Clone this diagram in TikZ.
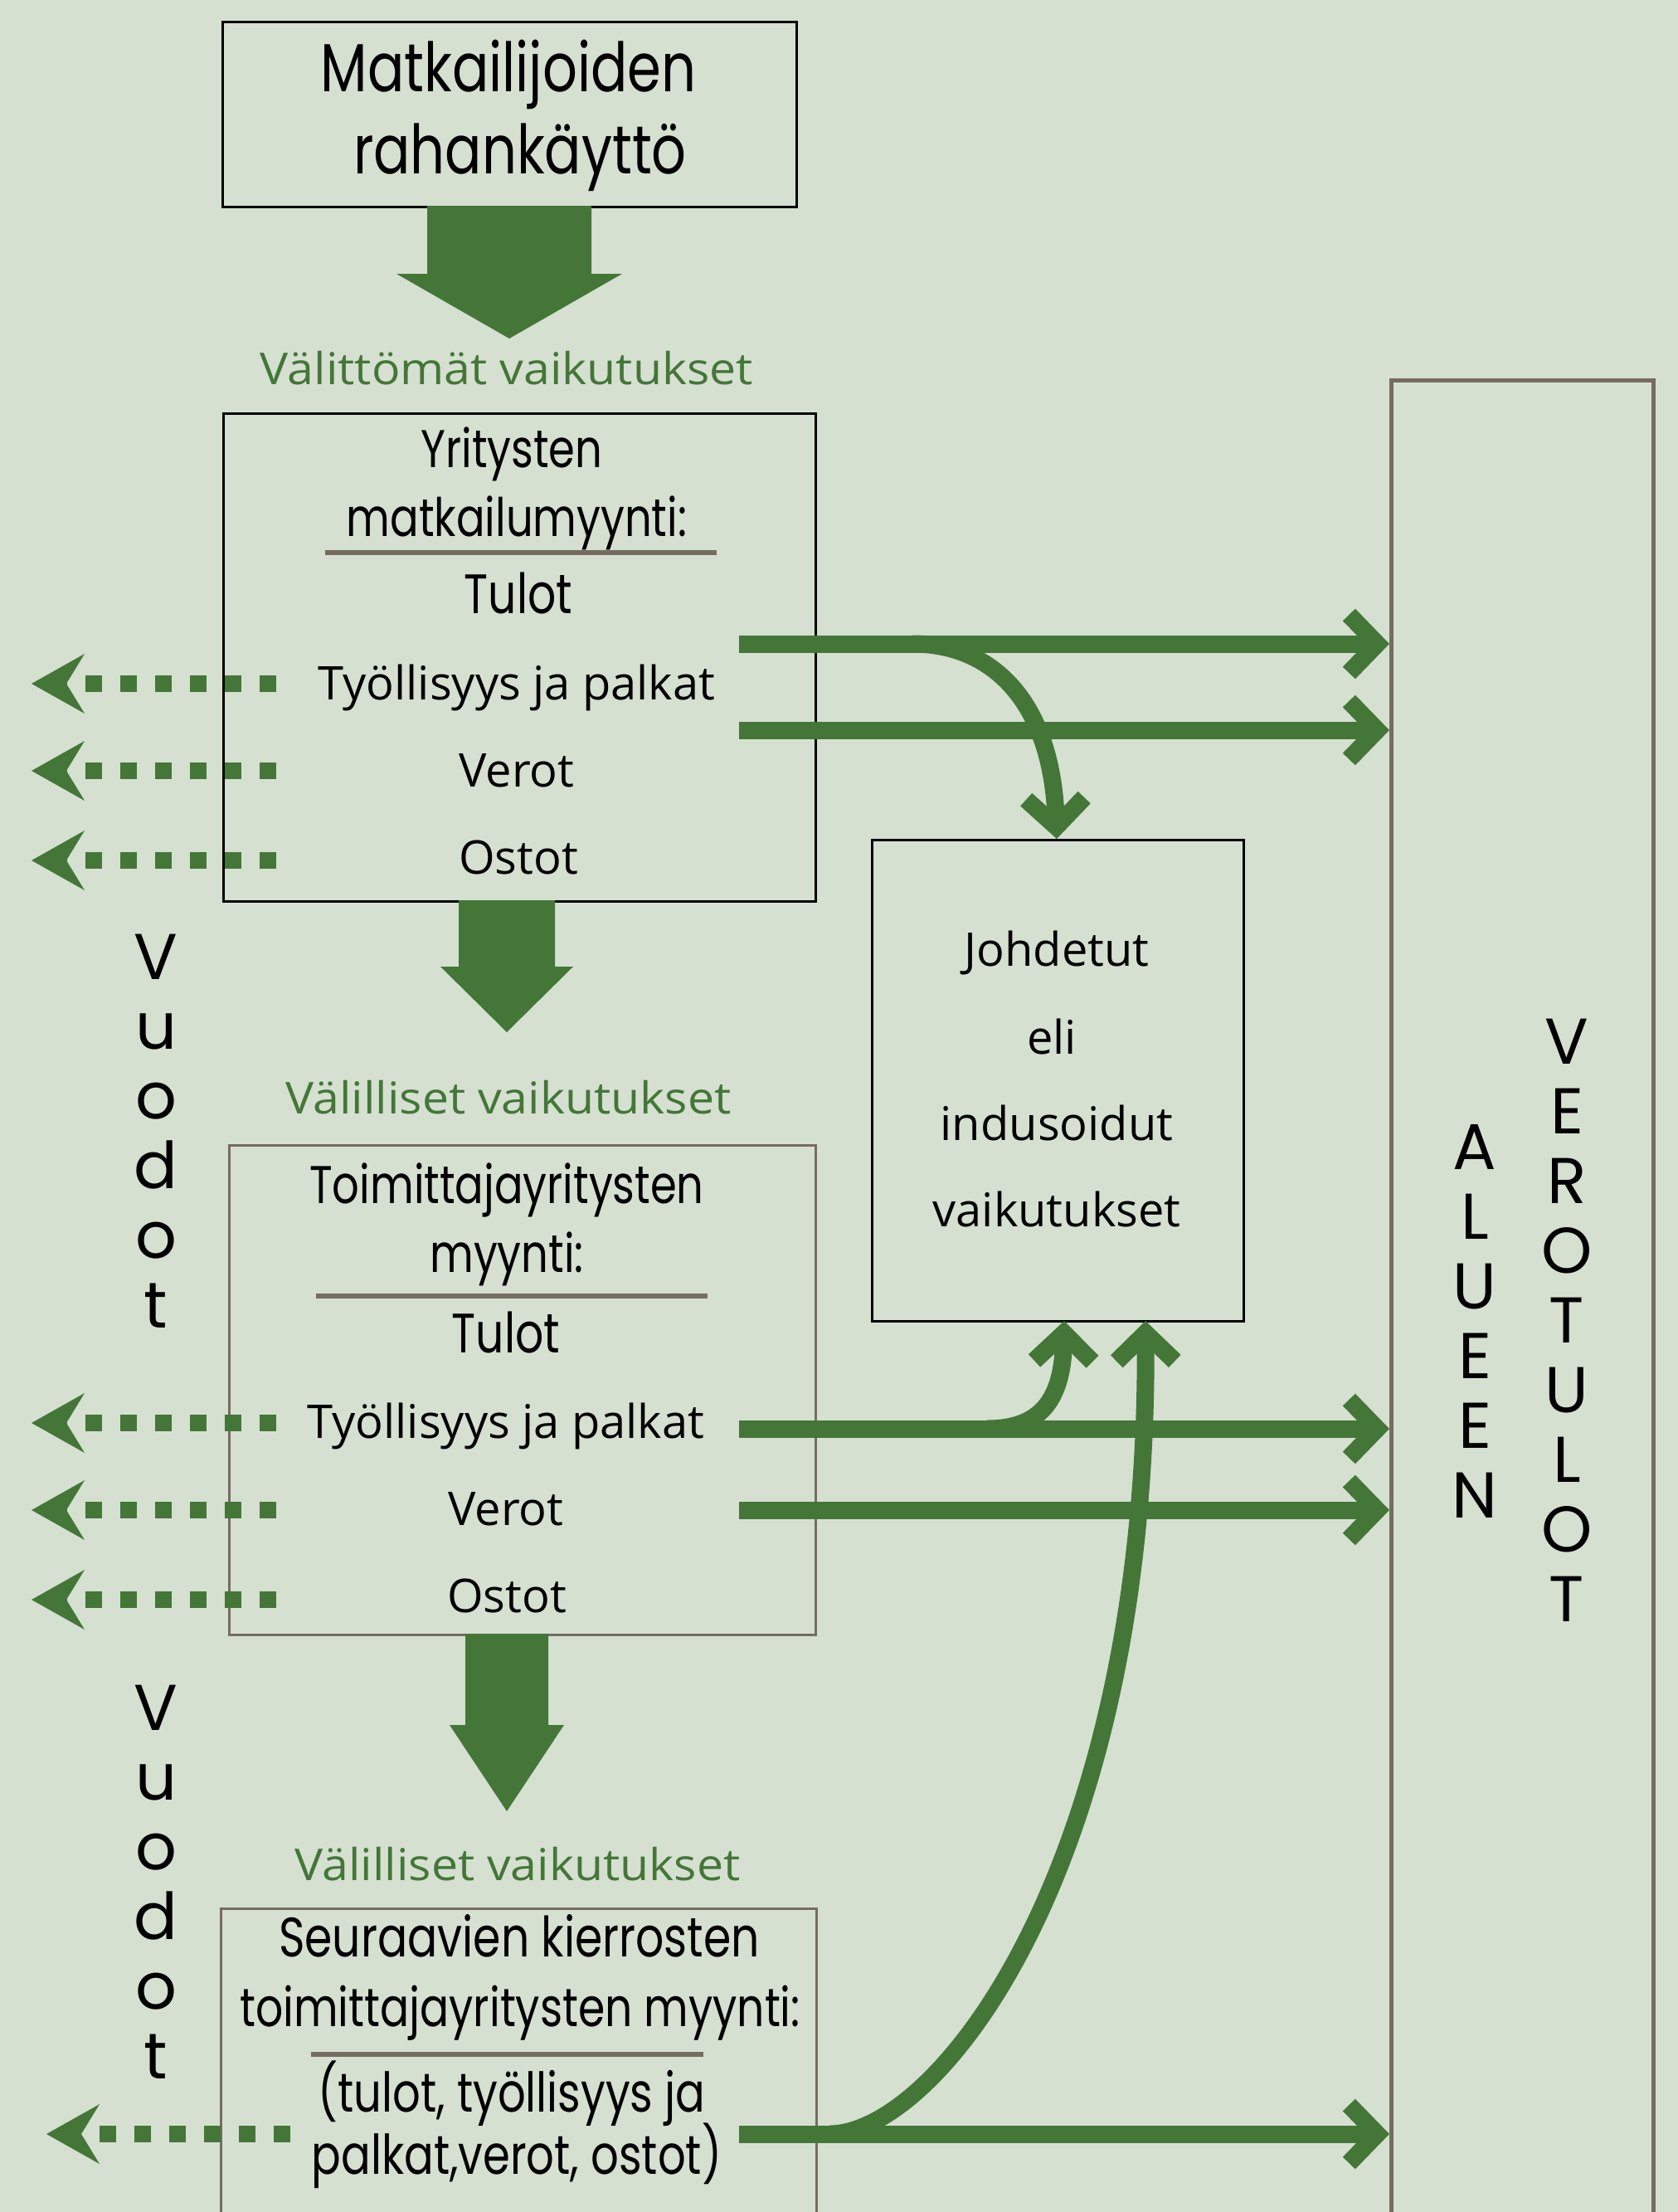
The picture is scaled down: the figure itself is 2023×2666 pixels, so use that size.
\documentclass[tikz,border=0pt]{standalone}
\usepackage{fontspec}
\setmainfont{Open Sans}
\newfontfamily\futfont[FakeStretch=0.8]{Poppins}
\newfontfamily\gothfont{Poppins}
\newfontfamily\grnfont[FakeStretch=1.08]{Open Sans}
\usetikzlibrary{arrows.meta}
\definecolor{bgc}{RGB}{213,224,209}
\definecolor{grn}{RGB}{68,118,56}
\definecolor{brn}{RGB}{118,108,96}
\newcommand\blkarrow[6]{%
  \fill[grn] (#1-#3,#2) -- (#1+#3,#2) -- (#1+#3,#4) -- (#1+#5,#4) -- (#1,#6) -- (#1-#5,#4) -- (#1-#3,#4) -- cycle;}
\begin{document}
\begin{tikzpicture}[x=1pt,y=-1pt,
  kbox/.style={draw=black, line width=3pt, anchor=north west, inner sep=0pt},
  bbox/.style={draw=brn, line width=3pt, anchor=north west, inner sep=0pt},
  futt/.style={font=\futfont\fontsize{#1}{#1}\selectfont, anchor=base, inner sep=0pt},
  myr/.style={font=\fontsize{#1}{#1}\selectfont, anchor=base, inner sep=0pt},
  glab/.style={font=\grnfont\fontsize{53}{53}\selectfont, text=grn, anchor=base, inner sep=0pt},
  vlet/.style={font=\gothfont\fontsize{78}{78}\selectfont, anchor=base, inner sep=0pt},
  rulel/.style={draw=brn, line width=6pt},
  flow/.style={draw=grn, line width=21pt, -{Straight Barb[length=34pt,width=70pt]}},
  dotarr/.style={draw=grn, line width=20pt, dash pattern=on 20pt off 22pt,
     -{Stealth[length=64pt,width=72pt,inset=22pt,line width=0pt]}}]
\useasboundingbox (0,0) rectangle (2023,2666);
\fill[bgc] (0,0) rectangle (2023,2666);
\clip (0,0) rectangle (2023,2666);

% boxes
\node[kbox, minimum width=692pt, minimum height=223pt] (b1) at (267,25) {};
\node[kbox, minimum width=714pt, minimum height=588pt] (b2) at (268,497) {};
\node[bbox, minimum width=707pt, minimum height=590pt] (b3) at (275,1379) {};
\node[bbox, minimum width=718pt, minimum height=500pt] (b4) at (265,2299) {};
\node[kbox, minimum width=448pt, minimum height=580pt] (johd) at (1050,1011) {};
\node[draw=brn, line width=5pt, anchor=north west, inner sep=0pt, minimum width=316pt, minimum height=2400pt] (vero) at (1675,456) {};

% block arrows
\blkarrow{614}{248}{99}{330}{136}{408}
\blkarrow{611}{1085}{58}{1165}{80}{1244}
\blkarrow{611}{1969}{50}{2079}{69}{2183}

% box 1
\node[futt=82] (m1) at (613,110) {Matkailijoiden};
\node[futt=82] (m2) at (627,209) {rahankäyttö};
% green labels
\node[glab] (g1) at (611,463) {Välittömät vaikutukset};
\node[glab] (g2) at (613,1342) {Välilliset vaikutukset};
\node[glab] (g3) at (624,2266) {Välilliset vaikutukset};
% box 2
\node[futt=64] (y1) at (617,563) {Yritysten};
\node[futt=64] (y2) at (623,646) {matkailumyynti:};
\draw[rulel] (392,666) -- (864,666);
\node[futt=67] (y3) at (625,739) {Tulot};
\node[myr=56] (y4) at (623,843) {Työllisyys ja palkat};
\node[myr=56] (y5) at (623,948) {Verot};
\node[myr=56] (y6) at (625,1053) {Ostot};
% box 3
\node[futt=64] (s1) at (611,1450) {Toimittajayritysten};
\node[futt=64] (s2) at (611,1533) {myynti:};
\draw[rulel] (381,1562) -- (853,1562);
\node[futt=67] (s3) at (610,1630) {Tulot};
\node[myr=56] (s4) at (610,1733) {Työllisyys ja palkat};
\node[myr=56] (s5) at (610,1838) {Verot};
\node[myr=56] (s6) at (611,1943) {Ostot};
% box 4
\node[futt=67] (k1) at (626,2358) {Seuraavien kierrosten};
\node[futt=65] (k2) at (627,2442) {toimittajayritysten myynti:};
\draw[rulel] (375,2476) -- (848,2476);
\node[futt=66] (k3) at (617,2545) {(tulot, työllisyys ja};
\node[futt=66] (k4) at (623,2620) {palkat,verot, ostot)};
% johdetut
\node[myr=56] (j1) at (1274,1164) {Johdetut};
\node[myr=56] (j2) at (1268,1270) {eli};
\node[myr=56] (j3) at (1274,1374) {indusoidut};
\node[myr=56] (j4) at (1274,1478) {vaikutukset};

% vertical words
\foreach \l [count=\i] in {V,u,o,d,o,t} {
  \node[vlet] (va\i) at (188,1180+84*\i-84) {\l};
  \node[vlet] (vb\i) at (188,2085+84*\i-84) {\l};
}
\foreach \l [count=\i] in {A,L,U,E,E,N} {
  \node[vlet] (al\i) at (1778,1409+84*\i-84) {\l};
}
\foreach \l [count=\i] in {V,E,R,O,T,U,L,O,T} {
  \node[vlet] (ve\i) at (1889,1282+84*\i-84) {\l};
}

% connector coordinates
\coordinate (r1) at (891,776);
\coordinate (r2) at (891,880);
\coordinate (r3) at (891,1722);
\coordinate (r4) at (891,1820);
\coordinate (r5) at (891,2572);

% right flows
\draw[flow] (r1) -- (r1 -| vero.west);
\draw[flow] (r2) -- (r2 -| vero.west);
\draw[flow] (r3) -- (r3 -| vero.west);
\draw[flow] (r4) -- (r4 -| vero.west);
\draw[flow] (r5) -- (r5 -| vero.west);
% curves to johdetut
\draw[flow] (1100,776) .. controls (1200,776) and (1268,850) .. (johd.north -| 1274,0);
\draw[flow] (1190,1722) .. controls (1252,1722) and (1281,1690) .. (1283,1592);
\draw[flow] (1000,2572) .. controls (1130,2572) and (1385,2250) .. (1381,1592);

% leakage dotted arrows
\foreach \yy/\nm in {824/d1,929/d2,1037/d3,1715/d4,1820/d5,1928/d6} {
  \coordinate (\nm s) at (333,\yy);
  \coordinate (\nm e) at (38,\yy);
  \draw[dotarr] (\nm s) -- (\nm e);
}
\coordinate (d7s) at (350,2572);
\coordinate (d7e) at (56,2572);
\draw[dotarr] (d7s) -- (d7e);
\end{tikzpicture}
\end{document}
